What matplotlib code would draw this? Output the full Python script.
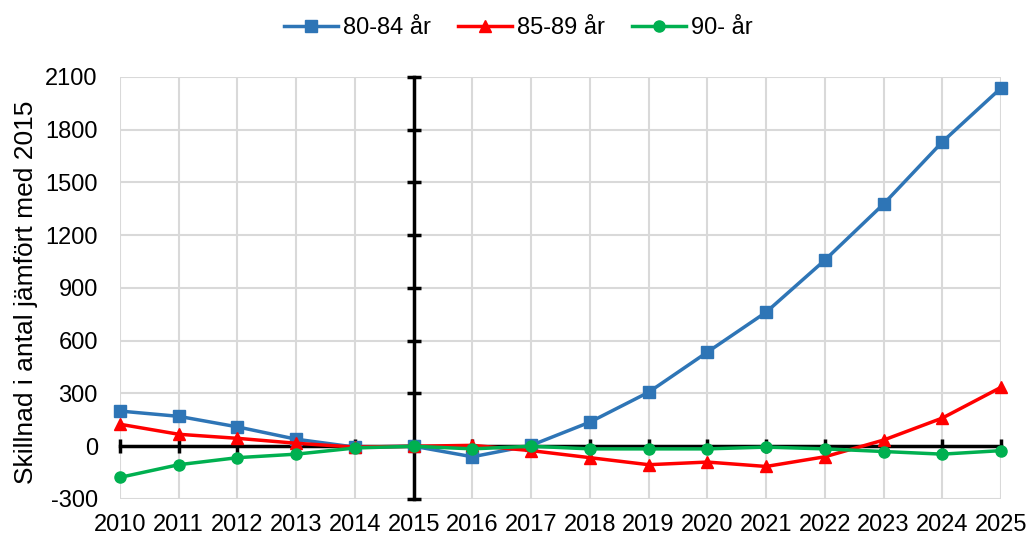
import matplotlib
matplotlib.use("Agg")
import matplotlib.pyplot as plt

plt.rcParams['font.family'] = ['Liberation Sans', 'DejaVu Sans']
plt.rcParams['axes.unicode_minus'] = False

years = list(range(2010, 2026))
s80_84 = [200, 170, 110, 40, -5, 0, -60, 5, 137, 307, 535, 762, 1058, 1377, 1730, 2037]
s85_89 = [125, 68, 45, 17, -5, 0, 5, -25, -65, -105, -90, -115, -60, 35, 160, 335]
s90 = [-177, -105, -65, -45, -10, 0, -15, 0, -15, -15, -15, -5, -15, -30, -45, -25]
labels = ["80-84 år", "85-89 år", "90- år"]
yticks = list(range(-300, 2101, 300))
ref_year = 2015

fig = plt.figure(figsize=(10.31, 5.38), dpi=100)
ax = fig.add_axes([0.1164, 0.0725, 0.9709 - 0.1164, 0.857 - 0.0725])

ax.set_xlim(years[0], years[-1])
ax.set_ylim(yticks[0], yticks[-1])
ax.set_xticks(years)
ax.set_yticks(yticks)
ax.grid(True, color='#d9d9d9', linewidth=1.5, zorder=0)
for s in ax.spines.values():
    s.set_visible(False)
ax.tick_params(axis='both', length=0, labelsize=17)
ax.tick_params(axis='y', pad=16)
ax.tick_params(axis='x', pad=11)
ax.set_ylabel("Skillnad i antal jämfört med 2015", fontsize=19)
ax.yaxis.set_label_coords(-0.093, 0.49)

# black reference lines with tick marks
ax.plot(years, [0] * len(years), color='black', lw=2.5, marker='|', ms=10, mew=2.5, zorder=2, clip_on=False)
ax.plot([ref_year] * len(yticks), yticks, color='black', lw=2.5, marker='_', ms=10, mew=2.5, zorder=2, clip_on=False)

ax.plot(years, s80_84, color='#2e75b6', lw=2.5, marker='s', ms=8, label=labels[0], zorder=3, clip_on=False)
ax.plot(years, s85_89, color='#ff0000', lw=2.5, marker='^', ms=8, label=labels[1], zorder=4, clip_on=False)
ax.plot(years, s90, color='#00b050', lw=2.5, marker='o', ms=8, label=labels[2], zorder=5, clip_on=False)

fig.legend(loc='center', bbox_to_anchor=(0.5025, 0.948), ncol=3, frameon=False,
           fontsize=17, handlelength=2.3, columnspacing=1.15, handletextpad=0.2)

fig.savefig("out.png", dpi=100)
